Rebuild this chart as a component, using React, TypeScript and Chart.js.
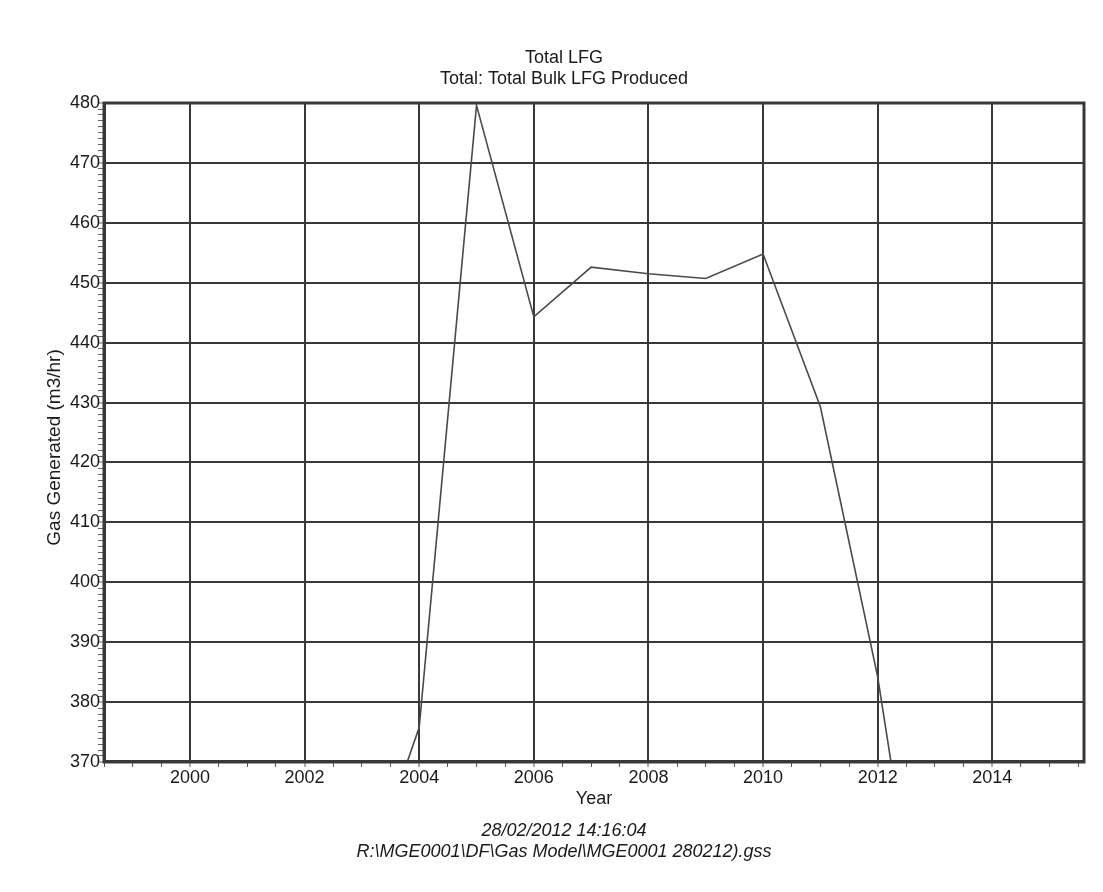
import React, { useEffect, useRef } from "react";
import { Chart, registerables } from "chart.js";

Chart.register(...registerables);

// ---- data ----
const titleLines = ["Total LFG", "Total: Total Bulk LFG Produced"];
const footerLines = ["28/02/2012 14:16:04", "R:\\MGE0001\\DF\\Gas Model\\MGE0001 280212).gss"];
const xAxisTitle = "Year";
const yAxisTitle = "Gas Generated (m3/hr)";

const years = [2003, 2004, 2005, 2006, 2007, 2008, 2009, 2010, 2011, 2012, 2013];
const gasGenerated = [348, 375.8, 479.6, 444.3, 452.6, 451.5, 450.7, 454.8, 429.3, 384.2, 323];

const xMin = 1998.5;
const xMax = 2015.6;
const xMajorStep = 2;
const xMinorStep = 0.5;
const yMin = 370;
const yMax = 480;
const yMajorStep = 10;
const yMinorStep = 1;

const FONT = "'Liberation Sans', Arial, Helvetica, sans-serif";
const TEXT = "#1a1a1a";
const GRID = "#383838";

const isMajor = (v: number, step: number) => Math.abs(v / step - Math.round(v / step)) < 1e-6;

const framePlugin = {
  id: "frame",
  afterDatasetsDraw(chart: any) {
    const { ctx, chartArea: a } = chart;
    ctx.save();
    ctx.strokeStyle = GRID;
    ctx.lineWidth = 3;
    ctx.strokeRect(a.left, a.top, a.right - a.left, a.bottom - a.top);
    ctx.restore();
  },
};

// y-axis title, drawn beside the axis (slightly below the axis centre, as in the reference)
const yTitlePlugin = {
  id: "yTitle",
  afterDraw(chart: any) {
    const { ctx, chartArea: a } = chart;
    ctx.save();
    ctx.translate(a.left - 49, (a.top + a.bottom) / 2 + 15);
    ctx.rotate(-Math.PI / 2);
    ctx.fillStyle = TEXT;
    ctx.font = `19px ${FONT}`;
    ctx.textAlign = "center";
    ctx.textBaseline = "middle";
    ctx.fillText(yAxisTitle, 0, 0);
    ctx.restore();
  },
};

export default function App() {
  const ref = useRef<HTMLCanvasElement | null>(null);

  useEffect(() => {
    document.body.style.margin = "0";
    document.body.style.background = "#ffffff";
    const canvas = ref.current;
    if (!canvas) return;

    const points = years.map((y, i) => ({ x: y, y: gasGenerated[i] }));

    const chart = new Chart(canvas, {
      type: "line",
      data: {
        datasets: [
          {
            label: "Total Bulk LFG Produced",
            data: points,
            borderColor: "#4a4a4a",
            borderWidth: 1.6,
            pointRadius: 0,
            tension: 0,
            fill: false,
          },
        ],
      },
      options: {
        responsive: false,
        animation: false,
        devicePixelRatio: 1,
        layout: { padding: { left: 44, right: 19, top: 0, bottom: 0 } },
        plugins: {
          legend: { display: false },
          tooltip: { enabled: false },
          title: {
            display: true,
            text: titleLines,
            color: TEXT,
            font: { family: FONT, size: 18, weight: "normal", lineHeight: 1.167 },
            padding: { top: 47.5, bottom: 13.5 },
          },
          subtitle: {
            display: true,
            position: "bottom",
            text: footerLines,
            color: TEXT,
            font: { family: FONT, size: 18, style: "italic", weight: "normal", lineHeight: 1.167 },
            padding: { top: 10.5, bottom: 29.5 },
          },
        },
        scales: {
          x: {
            type: "linear",
            min: xMin,
            max: xMax,
            afterBuildTicks: (axis: any) => {
              const t = [];
              for (let v = xMin; v <= xMax + 1e-9; v += xMinorStep) t.push({ value: v });
              axis.ticks = t;
            },
            afterFit: (axis: any) => {
              axis.height = 48;
            },
            ticks: {
              autoSkip: false,
              maxRotation: 0,
              padding: 0,
              color: TEXT,
              font: { family: FONT, size: 18 },
              callback: (v: any) => (isMajor(Number(v), xMajorStep) ? String(v) : ""),
            },
            grid: {
              drawOnChartArea: true,
              drawTicks: true,
              tickLength: 5,
              color: (c: any) => (c.tick && isMajor(c.tick.value, xMajorStep) ? GRID : "rgba(0,0,0,0)"),
              lineWidth: (c: any) => (c.tick && isMajor(c.tick.value, xMajorStep) ? 2 : 1),
              tickColor: "#555555",
              tickWidth: 1,
            },
            border: { display: true, color: GRID, width: 3 },
            title: {
              display: true,
              text: xAxisTitle,
              color: TEXT,
              font: { family: FONT, size: 18 },
              padding: { top: 0, bottom: 0 },
            },
          },
          y: {
            type: "linear",
            min: yMin,
            max: yMax,
            afterBuildTicks: (axis: any) => {
              const t = [];
              for (let v = yMin; v <= yMax + 1e-9; v += yMinorStep) t.push({ value: v });
              axis.ticks = t;
            },
            afterFit: (axis: any) => {
              axis.width = 60;
            },
            ticks: {
              autoSkip: false,
              padding: -2,
              color: TEXT,
              font: { family: FONT, size: 18 },
              callback: (v: any) => (isMajor(Number(v), yMajorStep) ? String(v) : ""),
            },
            grid: {
              drawOnChartArea: true,
              drawTicks: true,
              tickLength: 6,
              color: (c: any) => (c.tick && isMajor(c.tick.value, yMajorStep) ? GRID : "rgba(0,0,0,0)"),
              lineWidth: (c: any) => (c.tick && isMajor(c.tick.value, yMajorStep) ? 2 : 1),
              tickColor: "#666666",
              tickWidth: 1,
            },
            border: { display: true, color: GRID, width: 3 },
            title: { display: false },
          },
        },
      },
      plugins: [framePlugin, yTitlePlugin],
    });

    return () => chart.destroy();
  }, []);

  return <canvas ref={ref} width={1103} height={892} style={{ display: "block" }} />;
}
